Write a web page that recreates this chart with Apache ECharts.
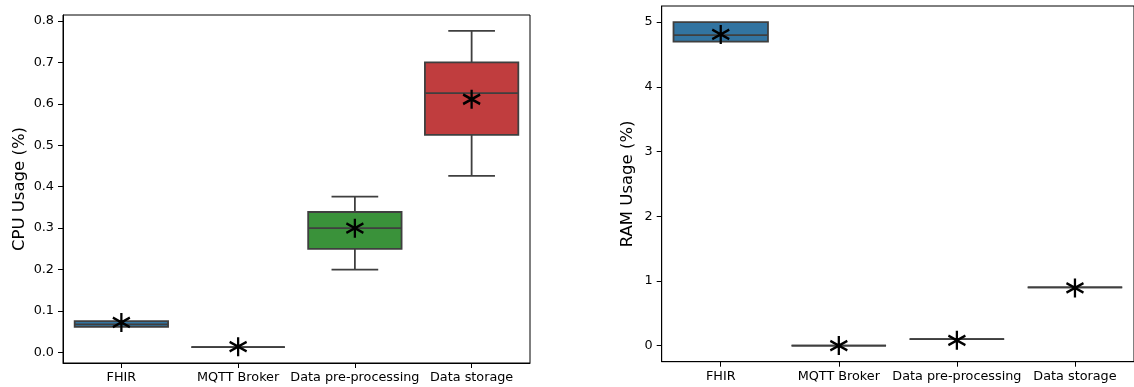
<!DOCTYPE html>
<html>
<head>
<meta charset="utf-8">
<script src="https://cdn.jsdelivr.net/npm/echarts@6/dist/echarts.min.js"></script>
<style>
html,body{margin:0;padding:0;background:#fff;}
#chart{width:1134px;height:387px;}
</style>
</head>
<body>
<div id="chart"></div>
<script>
// ---- data ----
const categories = ['FHIR', 'MQTT Broker', 'Data pre-processing', 'Data storage'];

const cpuMin    = [0.062, 0.0128, 0.200, 0.426];
const cpuQ1     = [0.062, 0.0128, 0.250, 0.525];
const cpuMedian = [0.068, 0.0128, 0.300, 0.626];
const cpuQ3     = [0.0755, 0.0128, 0.339, 0.700];
const cpuMax    = [0.0755, 0.0128, 0.376, 0.776];
const cpuMean   = [0.0725, 0.014, 0.300, 0.611];

const ramMin    = [4.70, 0.0, 0.10, 0.90];
const ramQ1     = [4.70, 0.0, 0.10, 0.90];
const ramMedian = [4.80, 0.0, 0.10, 0.90];
const ramQ3     = [5.00, 0.0, 0.10, 0.90];
const ramMax    = [5.00, 0.0, 0.10, 0.90];
const ramMean   = [4.81, 0.0, 0.08, 0.89];

const cpuTicks = [0, 0.1, 0.2, 0.3, 0.4, 0.5, 0.6, 0.7, 0.8];
const ramTicks = [0, 1, 2, 3, 4, 5];

// ---- style ----
const fills = ['#3274a1', '#e1812c', '#3a923a', '#c03d3e'];
const edge = '#3f3f3f';
const FONT = 'DejaVu Sans';

function boxRows(mn, q1, md, q3, mx) {
  return categories.map((c, i) => [i, mn[i], q1[i], md[i], q3[i], mx[i]]);
}
function meanRows(m) {
  return categories.map((c, i) => [i, m[i]]);
}

function renderBox(params, api) {
  const idx = api.value(0);
  const lo = api.coord([idx, api.value(1)]);
  const q1 = api.coord([idx, api.value(2)]);
  const md = api.coord([idx, api.value(3)]);
  const q3 = api.coord([idx, api.value(4)]);
  const hi = api.coord([idx, api.value(5)]);
  const bw = api.size([1, 0])[0] * 0.8;
  const cx = lo[0];
  const cw = bw / 4;
  const ls = { stroke: edge, lineWidth: 1.8, fill: null };
  const children = [];
  if (hi[1] < q3[1] - 0.5) {
    children.push({ type: 'line', shape: { x1: cx, y1: q3[1], x2: cx, y2: hi[1] }, style: ls });
    children.push({ type: 'line', shape: { x1: cx - cw, y1: hi[1], x2: cx + cw, y2: hi[1] }, style: ls });
  }
  if (lo[1] > q1[1] + 0.5) {
    children.push({ type: 'line', shape: { x1: cx, y1: q1[1], x2: cx, y2: lo[1] }, style: ls });
    children.push({ type: 'line', shape: { x1: cx - cw, y1: lo[1], x2: cx + cw, y2: lo[1] }, style: ls });
  }
  children.push({
    type: 'rect',
    shape: { x: cx - bw / 2, y: q3[1], width: bw, height: q1[1] - q3[1] },
    style: { fill: fills[idx], stroke: edge, lineWidth: 1.8 }
  });
  children.push({ type: 'line', shape: { x1: cx - bw / 2, y1: md[1], x2: cx + bw / 2, y2: md[1] }, style: ls });
  return { type: 'group', children: children };
}

const starPath = 'path://M10,0 L10,20 M1.5,5 L18.5,15 M1.5,15 L18.5,5';

function xAxisCfg(gi) {
  return {
    type: 'category', gridIndex: gi, data: categories,
    axisLine: { show: true, onZero: false, lineStyle: { color: '#000', width: 1 } },
    axisTick: { show: true, alignWithLabel: true, length: 5, lineStyle: { color: '#000' } },
    axisLabel: { color: '#000', fontFamily: FONT, fontSize: 12.8, margin: 8, interval: 0 },
    splitLine: { show: false }
  };
}
function yAxisCfg(gi, min, max, ticks, name, gap, fmt) {
  return {
    type: 'value', gridIndex: gi, min: min, max: max,
    name: name, nameLocation: 'middle', nameGap: gap, nameRotate: 90,
    nameTextStyle: { color: '#000', fontFamily: FONT, fontSize: 16.5 },
    axisLine: { show: true, onZero: false, lineStyle: { color: '#000', width: 1 } },
    axisTick: { show: true, length: 5, customValues: ticks, lineStyle: { color: '#000' } },
    axisLabel: { color: '#000', fontFamily: FONT, fontSize: 12.8, margin: 9, customValues: ticks, formatter: fmt },
    splitLine: { show: false }
  };
}

const starStyle = { color: 'none', borderColor: '#000', borderWidth: 2.4, opacity: 1 };

const chart = echarts.init(document.getElementById('chart'), null, { renderer: 'canvas' });
chart.setOption({
  animation: false,
  backgroundColor: '#fff',
  grid: [
    { left: 63, top: 15, width: 467, height: 348, show: true, borderColor: '#000', borderWidth: 1, backgroundColor: 'transparent' },
    { left: 661.7, top: 6, width: 475.5, height: 355.7, show: true, borderColor: '#000', borderWidth: 1, backgroundColor: 'transparent' }
  ],
  xAxis: [xAxisCfg(0), xAxisCfg(1)],
  yAxis: [
    yAxisCfg(0, -0.0254, 0.8143, cpuTicks, 'CPU Usage (%)', 35, v => v.toFixed(1)),
    yAxisCfg(1, -0.25, 5.25, ramTicks, 'RAM Usage (%)', 25, v => String(Math.round(v)))
  ],
  series: [
    {
      type: 'custom', xAxisIndex: 0, yAxisIndex: 0,
      renderItem: renderBox, encode: { x: 0, y: [1, 2, 3, 4, 5] },
      data: boxRows(cpuMin, cpuQ1, cpuMedian, cpuQ3, cpuMax), z: 2
    },
    {
      type: 'custom', xAxisIndex: 1, yAxisIndex: 1,
      renderItem: renderBox, encode: { x: 0, y: [1, 2, 3, 4, 5] },
      data: boxRows(ramMin, ramQ1, ramMedian, ramQ3, ramMax), z: 2
    },
    {
      type: 'scatter', xAxisIndex: 0, yAxisIndex: 0, data: meanRows(cpuMean),
      symbol: starPath, symbolSize: [17, 19], z: 5,
      itemStyle: starStyle, emphasis: { disabled: true }
    },
    {
      type: 'scatter', xAxisIndex: 1, yAxisIndex: 1, data: meanRows(ramMean),
      symbol: starPath, symbolSize: [17, 19], z: 5,
      itemStyle: starStyle, emphasis: { disabled: true }
    }
  ]
});
</script>
</body>
</html>
